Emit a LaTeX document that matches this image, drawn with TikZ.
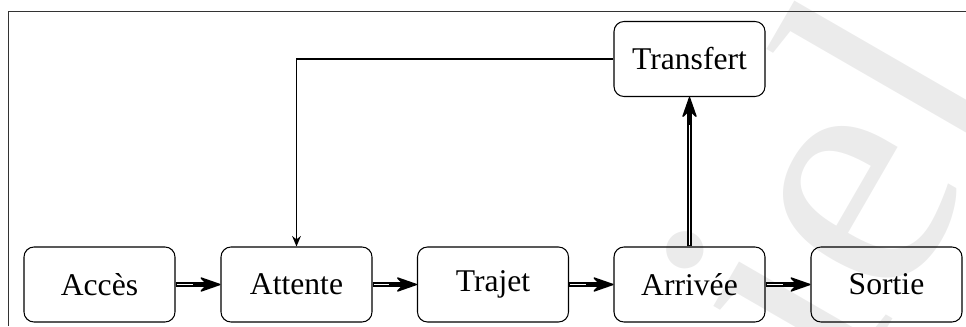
\documentclass[tikz,border=0pt]{standalone}
\usepackage{fontspec}
\setmainfont{Liberation Serif}
\usetikzlibrary{arrows.meta,calc}

\begin{document}
\begin{tikzpicture}[font=\fontsize{18}{22}\selectfont,
      etat/.style={draw,rounded corners=0.2cm,line width=0.6pt,
        minimum width=3.02cm,minimum height=1.5cm},
      passe/.style={line width=2.3pt,
        -{Stealth[length=0.46cm,width=0.32cm,round,line width=0.8pt]},
        postaction={draw,white,line width=1.1pt,-,
          shorten <=0.6pt,shorten >=0.55cm}},
      retour/.style={-{Stealth[length=6pt,width=5pt,inset=2pt]},line width=0.6pt}]
      \useasboundingbox (0,0) rectangle (19.32,6.52);

      % filigrane
      \begin{scope}
        \clip (0,0) rectangle (19.32,6.52);
        \node[rotate=60,anchor=base,text=black!8,inner sep=0pt,
          font=\fontsize{200}{200}\selectfont] (fil) at (18.70,1.62) {iel};
      \end{scope}

      % cadre
      \draw[black!80,line width=0.6pt] (0.166,0) |- (19.32,6.286);

      \node[etat] (acces)     at ( 1.99, 0.83) {Accès};
      \node[etat] (attente)   at ( 5.93, 0.83) {Attente};
      \node[etat] (trajet)    at ( 9.86, 0.83) {Trajet};
      \node[etat] (arrivee)   at (13.79, 0.83) {Arrivée};
      \node[etat] (sortie)    at (17.73, 0.83) {Sortie};
      \node[etat] (transfert) at (13.79, 5.34) {Transfert};

      \draw[passe] (acces) -- (attente);
      \draw[passe] (attente) -- (trajet);
      \draw[passe] (trajet) -- (arrivee);
      \draw[passe] (arrivee) -- (sortie);
      \draw[passe] (arrivee) -- (transfert);
      \draw[retour] (transfert.west) -| (attente.north);
\end{tikzpicture}
\end{document}
